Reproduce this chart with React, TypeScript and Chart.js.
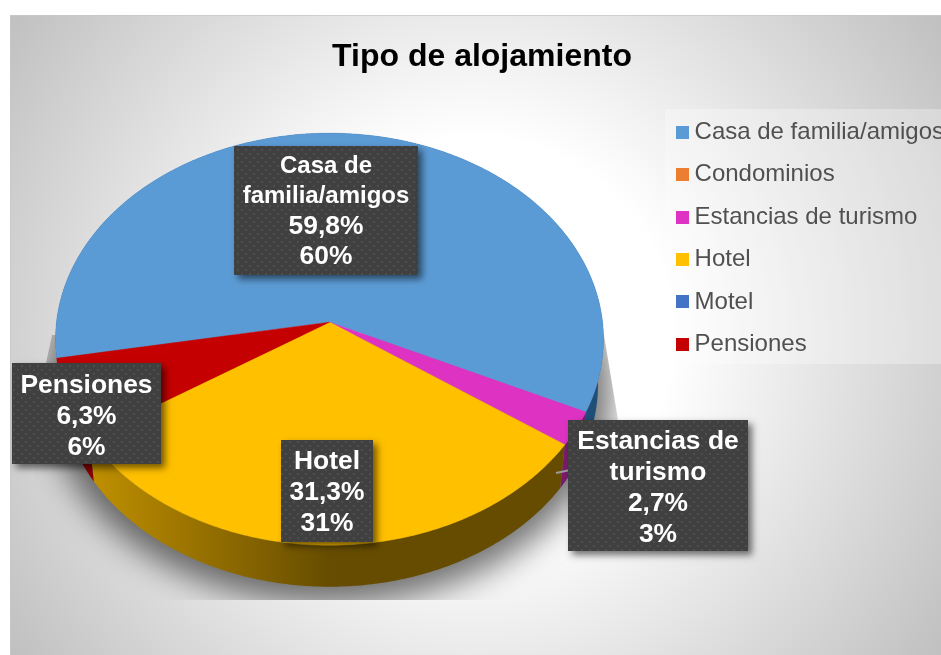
import React, { useEffect, useRef } from "react";
import { Chart, registerables } from "chart.js";

Chart.register(...registerables);

const categories = ["Casa de familia/amigos", "Condominios", "Estancias de turismo", "Hotel", "Motel", "Pensiones"];
const shares = [59.8, 0, 2.7, 31.3, 0, 6.3];
const sliceColors = ["#5B9BD5", "#ED7D31", "#DE32C3", "#FFC000", "#4472C4", "#C40000"];
const chartTitle = "Tipo de alojamiento";
const labelLines = [["Casa de", "familia/amigos"], [], ["Estancias de", "turismo"], ["Hotel"], [], ["Pensiones"]];

const FONT = '"Liberation Sans", Arial, sans-serif';
const OX = 10;
const OY = 15;
const KX = -7.5; // apex shift from the chart area's centre
const K = 0.0825;
const YS = 0.7495;
const SIDE_SCALE = 0.98;
const SIDE_DY = 46;

const labelBoxes: Record<number, { x: number; y: number; w: number; h: number; size: number; lead: number; dy: number }> = {
  0: { x: 234, y: 146, w: 184, h: 129, size: 24, lead: 30, dy: 1 },
  2: { x: 568, y: 420, w: 180, h: 131, size: 26.4, lead: 31, dy: 3 },
  3: { x: 281, y: 440, w: 92, h: 102, size: 26.4, lead: 31, dy: 2 },
  5: { x: 12, y: 363, w: 149, h: 101, size: 26.4, lead: 31, dy: 3 },
};

const sideGrad: Record<number, [string, string]> = {
  0: ["#1F4E79", "#1F4E79"],
  2: ["#7A1A6E", "#7A1A6E"],
  3: ["#C09000", "#664C00"],
  5: ["#8A0000", "#8A0000"],
};

function swatch(color: string) {
  const c = document.createElement("canvas");
  c.width = 13;
  c.height = 13;
  const g = c.getContext("2d")!;
  g.fillStyle = color;
  g.fillRect(0, 0, 13, 13);
  return c;
}

function dots() {
  const c = document.createElement("canvas");
  c.width = 8;
  c.height = 8;
  const g = c.getContext("2d")!;
  g.fillStyle = "#404040";
  g.fillRect(0, 0, 8, 8);
  g.fillStyle = "#4E4E4E";
  g.fillRect(1, 1, 2, 2);
  g.fillRect(5, 5, 2, 2);
  return c;
}

const piePlugin = {
  id: "perspectivePie",
  beforeDraw(chart: any) {
    const ctx = chart.ctx;
    ctx.save();
    ctx.translate(-OX, -OY);
    const g = ctx.createRadialGradient(475, 335, 0, 475, 335, 570);
    g.addColorStop(0, "#FFFFFF");
    g.addColorStop(0.345, "#FFFFFF");
    g.addColorStop(1, "#BFBFBF");
    ctx.fillStyle = g;
    ctx.fillRect(OX, OY, 960, 640);
    ctx.fillStyle = "rgba(255,255,255,0.3)";
    ctx.fillRect(665, 109, 300, 255);
    ctx.strokeStyle = "#C8C8C8";
    ctx.lineWidth = 1.5;
    ctx.beginPath();
    ctx.moveTo(OX, 660);
    ctx.lineTo(OX, OY);
    ctx.lineTo(960, OY);
    ctx.stroke();
    ctx.restore();
  },
  beforeDatasetsDraw(chart: any) {
    const ctx = chart.ctx;
    const arcs = chart.getDatasetMeta(0).data;
    const first = arcs[0];
    const ax = first.x + KX;
    const ay = first.y;
    const R = first.outerRadius;
    const pt = (t: number, scale = 1, dy = 0) => {
      const den = 1 - K * Math.sin(t);
      return [ax + (R * scale * Math.cos(t)) / den, ay + dy + (R * YS * scale * Math.sin(t)) / den];
    };
    const rim = (a: number, b: number, scale = 1, dy = 0) => {
      const out: number[][] = [];
      const n = Math.max(2, Math.ceil((b - a) / 0.01));
      for (let i = 0; i <= n; i++) out.push(pt(a + ((b - a) * i) / n, scale, dy));
      return out;
    };
    const trace = (p: number[][]) => p.forEach(([x, y], i) => (i ? ctx.lineTo(x, y) : ctx.moveTo(x, y)));

    // ground shadow, cut off as in the source picture
    ctx.save();
    ctx.beginPath();
    trace([
      [52 - OX, 335 - OY],
      [604 - OX, 335 - OY],
      [618 - OX, 420 - OY],
      [650 - OX, 600 - OY],
      [20 - OX, 600 - OY],
      [46 - OX, 363 - OY],
    ]);
    ctx.closePath();
    ctx.clip();
    ctx.filter = "blur(16px)";
    ctx.fillStyle = "rgba(0,0,0,0.55)";
    ctx.beginPath();
    trace(rim(0, Math.PI * 2, 1.03, 52));
    ctx.closePath();
    ctx.fill();
    ctx.restore();

    // side wall
    arcs.forEach((arc: any, i: number) => {
      if (arc.endAngle - arc.startAngle < 1e-4 || !sideGrad[i]) return;
      const g = ctx.createLinearGradient(90 - OX, 0, 330 - OX, 0);
      g.addColorStop(0, sideGrad[i][0]);
      g.addColorStop(1, sideGrad[i][1]);
      ctx.fillStyle = g;
      ctx.beginPath();
      trace([...rim(arc.startAngle, arc.endAngle), ...rim(arc.startAngle, arc.endAngle, SIDE_SCALE, SIDE_DY).reverse()]);
      ctx.closePath();
      ctx.fill();
    });

    // top face
    arcs.forEach((arc: any, i: number) => {
      if (arc.endAngle - arc.startAngle < 1e-4) return;
      ctx.fillStyle = sliceColors[i];
      ctx.strokeStyle = sliceColors[i];
      ctx.lineWidth = 0.5;
      ctx.beginPath();
      trace([[ax, ay], ...rim(arc.startAngle, arc.endAngle)]);
      ctx.closePath();
      ctx.fill();
      ctx.stroke();
    });
    return false;
  },
  afterDraw(chart: any) {
    const ctx = chart.ctx;
    ctx.save();
    ctx.translate(-OX, -OY);
    ctx.strokeStyle = "#9A9A9A";
    ctx.lineWidth = 2;
    ctx.beginPath();
    ctx.moveTo(556, 473);
    ctx.lineTo(570, 470);
    ctx.stroke();
    const pattern = ctx.createPattern(dots(), "repeat");
    shares.forEach((v, i) => {
      const b = labelBoxes[i];
      if (!b) return;
      ctx.save();
      ctx.shadowColor = "rgba(0,0,0,0.55)";
      ctx.shadowBlur = 7;
      ctx.shadowOffsetX = 4;
      ctx.shadowOffsetY = 4;
      ctx.fillStyle = "#404040";
      ctx.fillRect(b.x, b.y, b.w, b.h);
      ctx.restore();
      ctx.fillStyle = pattern;
      ctx.fillRect(b.x, b.y, b.w, b.h);
      const names = labelLines[i];
      const lines = [...names, `${v.toFixed(1).replace(".", ",")}%`, `${Math.round(v)}%`];
      ctx.fillStyle = "#FFFFFF";
      ctx.textAlign = "center";
      ctx.textBaseline = "middle";
      const top = b.y + b.dy + b.h / 2 - ((lines.length - 1) * b.lead) / 2;
      lines.forEach((l, j) => {
        ctx.font = `bold ${j < names.length ? b.size : 26.4}px ${FONT}`;
        ctx.fillText(l, b.x + b.w / 2, top + j * b.lead);
      });
    });
    ctx.restore();
  },
};

export default function App() {
  const ref = useRef<HTMLCanvasElement>(null);
  useEffect(() => {
    document.body.style.margin = "0";
    const chart = new Chart(ref.current!, {
      type: "pie",
      data: {
        labels: categories,
        datasets: [{ data: shares, backgroundColor: sliceColors, borderWidth: 0 }],
      },
      options: {
        responsive: false,
        animation: false,
        rotation: 260,
        radius: 273,
        layout: { padding: { left: 0, top: 0, right: 0, bottom: 112.5 } },
        plugins: {
          tooltip: { enabled: false },
          title: {
            display: true,
            text: chartTitle,
            color: "#000000",
            font: { family: FONT, size: 32, weight: "bold" },
            padding: { top: 23, bottom: 25.5 },
          },
          legend: {
            position: "right",
            align: "start",
            fullSize: false,
            labels: {
              color: "#505050",
              font: { family: FONT, size: 24 },
              padding: 18.4,
              usePointStyle: true,
              pointStyleWidth: 0.1,
              generateLabels: () =>
                categories.map((text, i) => ({
                  text,
                  pointStyle: swatch(sliceColors[i]),
                  fontColor: "#505050",
                  lineWidth: 0,
                  index: i,
                })),
            },
          },
        },
      } as any,
      plugins: [piePlugin as any],
    });
    return () => chart.destroy();
  }, []);
  return (
    <div style={{ position: "relative", width: 941, height: 655, overflow: "hidden", background: "#FFFFFF" }}>
      <canvas ref={ref} width={944} height={640} style={{ position: "absolute", left: OX, top: OY, display: "block" }} />
    </div>
  );
}
